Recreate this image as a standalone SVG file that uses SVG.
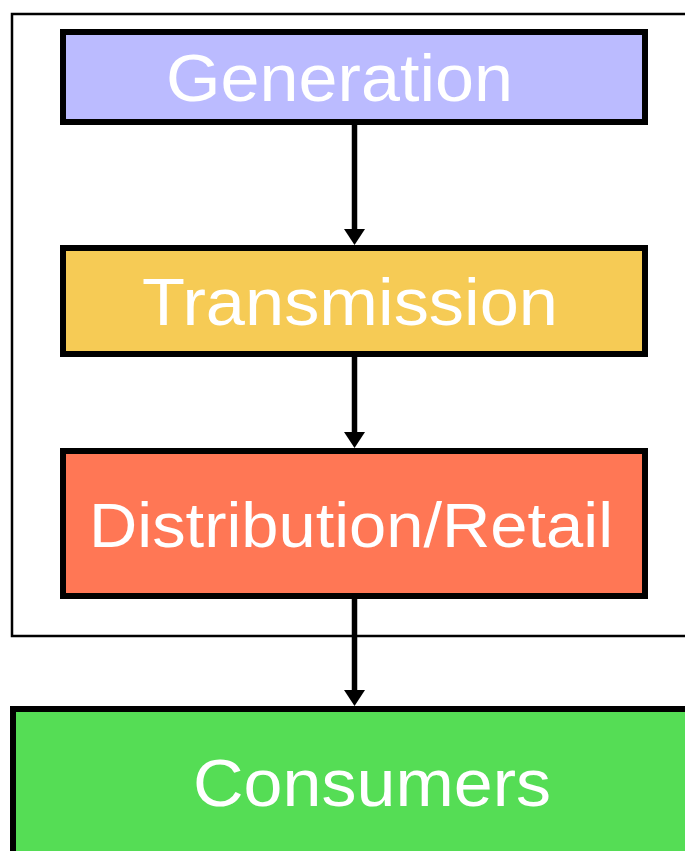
<svg xmlns="http://www.w3.org/2000/svg" width="685" height="851" viewBox="0 0 685 851">
<defs>
<marker id="ah" viewBox="0 0 16 21" refX="0" refY="10.5" markerWidth="16" markerHeight="21" markerUnits="userSpaceOnUse" orient="auto">
<path d="M0,0 L16,10.5 L0,21 Z" fill="#000"/>
</marker>
<style>
.box{stroke:#000;stroke-width:6}
.lbl{font-family:"Liberation Sans",Arial,sans-serif;fill:#fff;font-size:66px}
.con{stroke:#000;stroke-width:5.5;fill:none}
</style>
</defs>
<rect width="685" height="851" fill="#fff"/>
<rect id="frame" x="12" y="14" width="700" height="622" fill="none" stroke="#000" stroke-width="2.5"/>
<g id="connectors">
<line class="con" x1="354.5" y1="125" x2="354.5" y2="229" marker-end="url(#ah)"/>
<line class="con" x1="354.5" y1="357" x2="354.5" y2="432" marker-end="url(#ah)"/>
<line class="con" x1="354.5" y1="599" x2="354.5" y2="690" marker-end="url(#ah)"/>
</g>
<g id="generation">
<rect class="box" x="63" y="32" width="582" height="90" fill="#BBBBFF"/>
<text class="lbl" x="166" y="101" textLength="347" lengthAdjust="spacingAndGlyphs">Generation</text>
</g>
<g id="transmission">
<rect class="box" x="63" y="248" width="582" height="106" fill="#F6CB55"/>
<text class="lbl" x="142" y="325" textLength="416" lengthAdjust="spacingAndGlyphs">Transmission</text>
</g>
<g id="distribution">
<rect class="box" x="63" y="451" width="582" height="145" fill="#FF7755"/>
<text class="lbl" x="89" y="547" style="font-size:63px" textLength="524" lengthAdjust="spacingAndGlyphs">Distribution/Retail</text>
</g>
<g id="consumers">
<rect class="box" x="13" y="709" width="700" height="200" fill="#55DD55"/>
<text class="lbl" x="193" y="806" textLength="358" lengthAdjust="spacingAndGlyphs">Consumers</text>
</g>
</svg>
